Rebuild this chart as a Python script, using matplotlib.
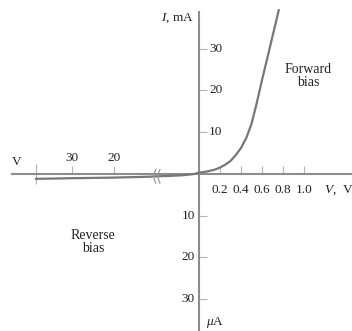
import numpy as np
import matplotlib
matplotlib.use("Agg")
import matplotlib.pyplot as plt

plt.rcParams['font.family'] = ['Liberation Serif', 'DejaVu Serif']
plt.rcParams['mathtext.fontset'] = 'custom'
plt.rcParams['mathtext.rm'] = 'Liberation Serif'
plt.rcParams['mathtext.it'] = 'Liberation Serif:italic'

# diode curve: reverse side in volts / microamps, forward side in volts / milliamps
rev_v = [-38.5, -30, -20, -12, -10, -7, -4, -2, -1]
rev_i = [-1.2, -1.05, -0.9, -0.7, -0.6, -0.5, -0.35, -0.15, 0.0]
fwd_v = [0, 0.05, 0.1, 0.15, 0.2, 0.25, 0.3, 0.35, 0.4, 0.45, 0.5, 0.55, 0.6, 0.65, 0.7, 0.76]
fwd_i = [0.3, 0.45, 0.7, 1.0, 1.5, 2.2, 3.1, 4.5, 6.2, 8.6, 12, 17, 22.5, 27.7, 33, 39.3]

x_pos_ticks = [0.2, 0.4, 0.6, 0.8, 1.0]
x_neg_ticks = [-30, -20]
y_pos_ticks = [10, 20, 30]
y_neg_ticks = [-10, -20, -30]
break_v = [-10.2, -9.2]

REV = 0.0404  # compression of the reverse voltage axis


def fwd(v):
    v = np.asarray(v, dtype=float)
    return np.where(v >= 0, v, v * REV)


def inv(u):
    u = np.asarray(u, dtype=float)
    return np.where(u >= 0, u, u / REV)


fig = plt.figure(figsize=(3.52, 3.31), dpi=100)
ax = fig.add_axes([0, 0, 1, 1])
ax.set_xscale('function', functions=(fwd, inv))
ax.set_xlim(-1.895 / REV, 1.457)
ax.set_ylim(-37.7, 41.7)

axis_col = '#8c8c8c'
tick_col = '#b4b4b4'
curve_col = '#777777'
txt_col = '#222222'

for s in ['top', 'right']:
    ax.spines[s].set_visible(False)
ax.spines['left'].set_position(('data', 0))
ax.spines['bottom'].set_position(('data', 0))
ax.spines['left'].set_bounds(-40, 38.8)
ax.spines['bottom'].set_bounds(-44, 2)
for s in ['left', 'bottom']:
    ax.spines[s].set_color(axis_col)
    ax.spines[s].set_linewidth(1.5)

ax.set_xticks(x_neg_ticks + x_pos_ticks)
ax.set_xticks([rev_v[0]], minor=True)
ax.set_yticks(y_neg_ticks + y_pos_ticks)
ax.tick_params(which='major', direction='in', length=5.8, width=0.8, color=tick_col,
               labelbottom=False, labelleft=False)
ax.tick_params(axis='x', which='minor', direction='inout', length=14, width=0.8, color=tick_col,
               labelbottom=False)
ax.tick_params(axis='y', which='minor', left=False)

fs = 9.5
for v in x_pos_ticks:
    ax.annotate(f'{v:.1f}', (v, 0), xytext=(0, -10), textcoords='offset pixels',
                ha='center', va='top', fontsize=fs, color=txt_col)
for v in x_neg_ticks:
    ax.annotate(f'{-v}', (v, 0), xytext=(0, 10), textcoords='offset pixels',
                ha='center', va='bottom', fontsize=fs, color=txt_col)
for v in y_pos_ticks:
    ax.annotate(f'{v}', (0, v), xytext=(10, 0), textcoords='offset pixels',
                ha='left', va='center', fontsize=fs, color=txt_col)
for v in y_neg_ticks:
    ax.annotate(f'{-v}', (0, v), xytext=(-4, 0), textcoords='offset pixels',
                ha='right', va='center', fontsize=fs, color=txt_col)

# the curve
ax.plot(rev_v + fwd_v, rev_i + fwd_i, color=curve_col, lw=1.6, solid_capstyle='round', zorder=3)

# axis break marks, drawn as small "(" strokes
t = np.linspace(-1, 1, 30)
for b in break_v:
    ax.plot(b - 0.45 * np.cos(np.pi * t / 2), 1.0 - 1.6 * (t + 1), color='#999999', lw=0.9, zorder=4)

# axis labels
ax.annotate('$I$, mA', (0, 38.8), xytext=(-5, -6), textcoords='offset pixels',
            ha='right', va='center', fontsize=fs, color=txt_col)
ax.annotate(r'$\mu$A', (0, -37.7), xytext=(7, 8), textcoords='offset pixels',
            ha='left', va='center', fontsize=fs, color=txt_col)
ax.annotate('V', (-42.9, 0), xytext=(0, 12), textcoords='offset pixels',
            ha='center', va='center', fontsize=fs, color=txt_col)
ax.annotate('$V$,  V', (1.19, 0), xytext=(0, -10), textcoords='offset pixels',
            ha='left', va='top', fontsize=fs, color=txt_col)

ax.text(1.038, 23.5, 'Forward\nbias', ha='center', va='center', fontsize=10,
        linespacing=1.05, color=txt_col)
ax.text(-25, -16.3, 'Reverse\nbias', ha='center', va='center', fontsize=10,
        linespacing=1.05, color=txt_col)

fig.savefig('out.png', dpi=100)
